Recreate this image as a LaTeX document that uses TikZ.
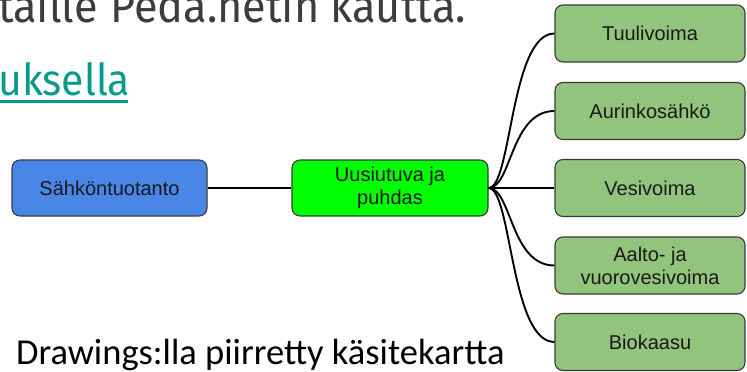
\documentclass[tikz,border=0pt]{standalone}
\usepackage{fontspec}
\setmainfont{Liberation Sans}
\newfontfamily\boxfont{Liberation Sans}
\newfontfamily\capfont{Carlito}
\newfontfamily\webfont[FakeStretch=0.93]{Fira Sans}
\definecolor{cblue}{HTML}{4A86E8}
\definecolor{cgreen}{HTML}{00FF00}
\definecolor{lgreen}{HTML}{93C47D}
\definecolor{bord}{HTML}{3A3A3A}
\definecolor{teal}{HTML}{0A9A8C}
\definecolor{topgray}{HTML}{3C3C3C}
\tikzset{
  box/.style={draw=bord, line width=1.1pt, rounded corners=8pt, inner sep=0pt,
    minimum height=56pt, align=center, text=black!90,
    font=\boxfont\fontsize{20}{23}\selectfont},
  leftbox/.style={box, minimum width=195pt},
  rightbox/.style={box, fill=lgreen, minimum width=190pt, minimum height=57pt},
  conn/.style={draw=black, line width=1.9pt},
  webtext/.style={inner sep=0pt, font=\webfont\fontsize{44}{50}\selectfont},
  toptext/.style={inner sep=0pt, text=topgray, font=\webfont\fontsize{46.5}{50}\selectfont},
}
\begin{document}
\begin{tikzpicture}[x=1pt,y=-1pt]
\useasboundingbox (0,0) rectangle (747,372);
\clip (0,0) rectangle (747,372);
% top cropped text
\node[toptext, anchor=base east] (toptextA) at (98,22) {oltaille};
\node[toptext, anchor=base west] (toptextB) at (110,22) {Peda.netin kautta.};
% link text
\node[webtext, anchor=base west, text=teal] (link) at (-2,95) {uksella};
\coordinate (ulA) at (0,101.5);
\coordinate (ulB) at (128,101.5);
\draw[teal, line width=3pt] (ulA) -- (ulB);
% caption
\node[anchor=base west, inner sep=0pt, text=black, font=\capfont\fontsize{36.5}{40}\selectfont] (caption) at (16,364) {Drawings:lla piirretty käsitekartta};
% boxes
\node[leftbox, fill=cblue] (sahko) at (109.5,188) {Sähköntuotanto};
\node[leftbox, fill=cgreen, minimum width=196pt] (uusi) at (390,188) {Uusiutuva ja\\puhdas};
\node[rightbox] (tuuli) at (650,33.5) {Tuulivoima};
\node[rightbox] (aurinko) at (650,111) {Aurinkosähkö};
\node[rightbox] (vesi) at (650,188) {Vesivoima};
\node[rightbox] (aalto) at (650,265.5) {Aalto- ja\\vuorovesivoima};
\node[rightbox] (bio) at (650,342) {Biokaasu};
% connectors
\draw[conn] (sahko.east) -- (uusi.west);
\foreach \t in {tuuli,aurinko,vesi,aalto,bio}{
  \draw[conn] (uusi.east) .. controls ([xshift=23pt]uusi.east) and ([xshift=-44pt]\t.west) .. (\t.west);
}
\end{tikzpicture}
\end{document}
